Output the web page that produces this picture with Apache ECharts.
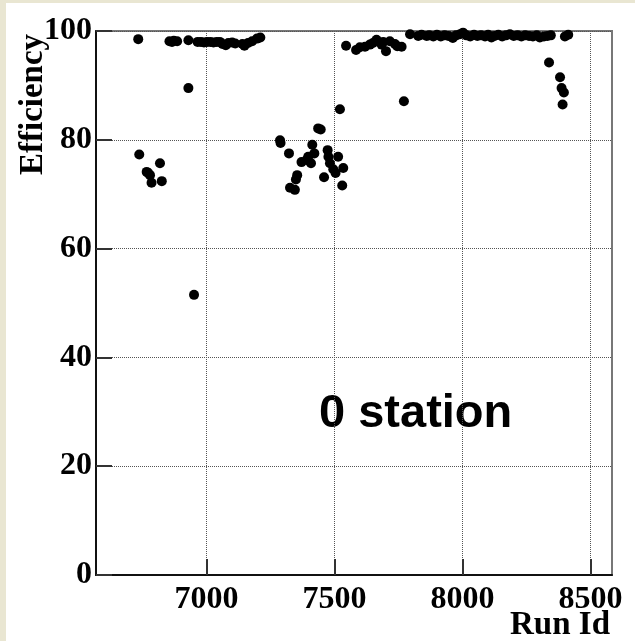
<!DOCTYPE html>
<html>
<head>
<meta charset="utf-8">
<script src="https://cdn.jsdelivr.net/npm/echarts@6/dist/echarts.min.js"></script>
<style>
  html, body { margin: 0; padding: 0; background: #e9e6d2; }
  #main { position: absolute; left: 6px; top: 3px; width: 629px; height: 638px; background: #fff; }
</style>
</head>
<body>
<div id="main"></div>
<script>
const runIds = [
  6733, 6855, 6865, 6872, 6885, 6929, 6929, 6951,
  6965, 6978, 6990, 7002, 7015, 7027, 7040, 7052, 7062, 7075, 7085, 7100, 7112,
  7140, 7148, 7162, 7178, 7197, 7210,
  6737, 6766, 6772, 6779, 6785, 6818, 6825,
  7287, 7289, 7322, 7326, 7345, 7349, 7354, 7371, 7391, 7397, 7408, 7413, 7421,
  7436, 7446, 7459, 7473, 7476, 7482, 7495, 7504, 7514, 7521, 7530, 7534,
  7545, 7584, 7599, 7619, 7638, 7650, 7664, 7684, 7690, 7701, 7716, 7736, 7745, 7762, 7771,
  7795, 7827, 7840, 7860, 7870, 7886,
  7900, 7915, 7930, 7945, 7962, 7975, 7990, 8002, 8015, 8030, 8045, 8058, 8072, 8088,
  8100, 8113, 8125, 8140, 8155, 8170, 8185, 8200, 8215, 8230, 8245, 8260, 8275, 8290,
  8302, 8318, 8332, 8345,
  8338, 8381, 8387, 8396, 8391, 8400, 8413
]
const efficiency = [
  98.5, 98.1, 98.0, 98.2, 98.1, 98.3, 89.5, 51.5,
  98.0, 98.0, 97.9, 98.0, 98.0, 97.9, 98.0, 98.0, 97.6, 97.4, 97.8, 97.9, 97.7,
  97.6, 97.3, 97.8, 98.1, 98.6, 98.8,
  77.3, 74.1, 73.9, 73.5, 72.1, 75.7, 72.4,
  79.9, 79.4, 77.5, 71.2, 70.8, 72.7, 73.5, 75.9, 76.3, 76.9, 75.7, 79.1, 77.5,
  82.1, 81.9, 73.1, 78.1, 76.9, 75.7, 74.6, 73.9, 76.9, 85.6, 71.6, 74.8,
  97.3, 96.5, 97.0, 97.1, 97.5, 97.8, 98.4, 97.5, 98.0, 96.3, 98.1, 97.6, 97.2, 97.1, 87.1,
  99.4, 99.1, 99.3, 99.1, 99.2, 99.0,
  99.3, 99.0, 99.2, 99.1, 98.7, 99.2, 99.4, 99.7, 99.2, 99.0, 99.3, 99.1, 99.2, 99.0,
  99.3, 98.8, 99.1, 99.3, 99.0, 99.2, 99.4, 99.1, 99.2, 99.0, 99.2, 99.1, 99.0, 99.2,
  98.8, 99.0, 99.1, 99.2,
  94.2, 91.5, 89.5, 88.7, 86.5, 99.0, 99.3
]
const xTicks = [7000, 7500, 8000, 8500]
const yTicks = [0, 20, 40, 60, 80, 100]

const points = runIds.map((r, i) => [r, efficiency[i]])

const serif = '"Liberation Serif", "DejaVu Serif", serif'
const chart = echarts.init(document.getElementById('main'))
const option = {
  backgroundColor: '#fff',
  animation: false,
  grid: {
    left: 90,
    top: 28,
    width: 516,
    height: 544,
    outerBoundsMode: 'none',
    containLabel: false,
    show: true,
    borderColor: '#777',
    borderWidth: 2,
    backgroundColor: '#fff'
  },
  xAxis: {
    type: 'value',
    min: 6568,
    max: 8584,
    axisLine: { lineStyle: { color: '#111', width: 2 } },
    axisTick: {
      inside: true,
      length: 16,
      customValues: xTicks,
      lineStyle: { color: '#333', width: 2 }
    },
    axisLabel: {
      customValues: xTicks,
      formatter: v => String(v),
      fontFamily: serif,
      fontWeight: 'bold',
      fontSize: 32,
      color: '#000',
      margin: 9
    },
    splitLine: {
      show: true,
      lineStyle: { color: '#555', type: 'dotted', width: 1 }
    }
  },
  yAxis: {
    type: 'value',
    min: 0,
    max: 100,
    interval: 20,
    axisLine: { show: true, lineStyle: { color: '#111', width: 2 } },
    axisTick: {
      inside: true,
      length: 16,
      lineStyle: { color: '#333', width: 2 }
    },
    axisLabel: {
      customValues: yTicks,
      formatter: v => String(v),
      fontFamily: serif,
      fontWeight: 'bold',
      fontSize: 32,
      color: '#000',
      margin: 4
    },
    splitLine: {
      show: true,
      lineStyle: { color: '#555', type: 'dotted', width: 1 }
    }
  },
  graphic: [
    {
      // y axis title, reads bottom to top
      type: 'text',
      x: 27,
      y: 172,
      rotation: Math.PI / 2,
      style: {
        text: 'Efficiency',
        font: 'bold 33px "Liberation Serif", serif',
        fill: '#000',
        textAlign: 'left',
        textVerticalAlign: 'middle'
      }
    },
    {
      type: 'text',
      x: 604,
      y: 622,
      style: {
        text: 'Run Id',
        font: 'bold 33px "Liberation Serif", serif',
        fill: '#000',
        textAlign: 'right',
        textVerticalAlign: 'middle'
      }
    },
    {
      type: 'text',
      left: 313,
      top: 388,
      style: {
        text: '0 station',
        font: 'bold 47px "Liberation Sans", Arial, sans-serif',
        fill: '#000'
      }
    }
  ],
  series: [
    {
      type: 'scatter',
      symbol: 'circle',
      symbolSize: 10,
      itemStyle: { color: '#000', opacity: 1 },
      data: points
    }
  ]
}
chart.setOption(option)
</script>
</body>
</html>
